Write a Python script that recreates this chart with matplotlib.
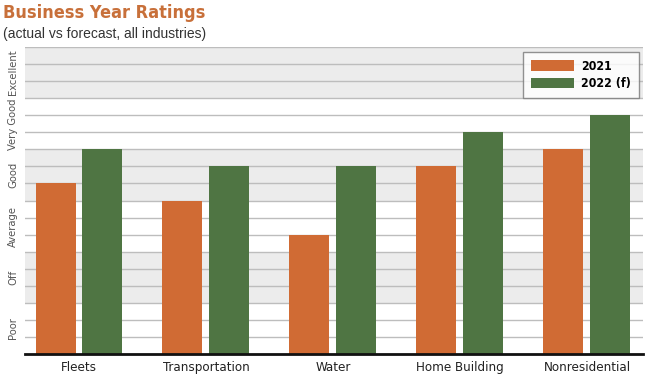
import matplotlib.pyplot as plt
import numpy as np

plt.rcParams["font.family"] = ["Liberation Sans", "DejaVu Sans"]

categories = ["Fleets", "Transportation", "Water", "Home Building", "Nonresidential"]
ratings_2021 = [10, 9, 7, 11, 12]
ratings_2022 = [12, 11, 11, 13, 14]
rating_labels = ["Poor", "Off", "Average", "Good", "Very Good", "Excellent"]

orange = "#D06B34"
green = "#4F7543"
narrow = dict(family="DejaVu Sans", fontstretch="condensed")

fig = plt.figure(figsize=(6.5, 3.82), dpi=100)
ax = fig.add_axes([0.0385, 0.073, 0.9505, 0.804])

# alternating bands, three grid steps per rating
for i in range(len(rating_labels)):
    if i % 2 == 0:
        continue
    ax.axhspan(i * 3, i * 3 + 3, color="#ececec", zorder=0, lw=0)
for y in range(1, 19):
    ax.axhline(y, color="#bdbdbd", lw=1, zorder=1)

x = np.arange(len(categories))
w = 0.315
off = 0.185
ax.bar(x - off, ratings_2021, w, color=orange, label="2021", zorder=2)
ax.bar(x + off, ratings_2022, w, color=green, label="2022 (f)", zorder=2)

ax.set_xlim(-0.425, len(categories) - 1 + 0.44)
ax.set_ylim(0, 18)
ax.set_xticks(x)
ax.set_xticklabels(categories, fontsize=9.5, color="#222222", **narrow)
ax.set_yticks([i * 3 + 1.5 for i in range(len(rating_labels))])
ax.set_yticklabels(rating_labels, rotation=90, va="center", fontsize=8, color="#555555", **narrow)
ax.tick_params(length=0, pad=5)
ax.tick_params(axis="x", pad=5)
for side in ["top", "right", "left"]:
    ax.spines[side].set_visible(False)
ax.spines["bottom"].set_linewidth(2)
ax.spines["bottom"].set_color("#111111")
ax.spines["bottom"].set_zorder(3)

leg = ax.legend(loc="upper right", bbox_to_anchor=(0.9935, 0.984), borderaxespad=0,
                frameon=True, fancybox=False, handlelength=3.5, handleheight=0.95,
                prop={"weight": "bold", "size": 8.8, "family": "DejaVu Sans",
                      "stretch": "condensed"},
                borderpad=0.65, labelspacing=0.35, handletextpad=0.6)
leg.get_frame().set_edgecolor("#777777")
leg.get_frame().set_linewidth(1)
leg.set_zorder(5)

fig.text(0.004, 0.965, "Business Year Ratings", fontsize=13, fontweight="bold",
         color="#C8703A", va="center", ha="left", **narrow)
fig.text(0.005, 0.912, "(actual vs forecast, all industries)", fontsize=10,
         color="#333333", va="center", ha="left")

fig.savefig("out.png", dpi=100)
plt.close(fig)
